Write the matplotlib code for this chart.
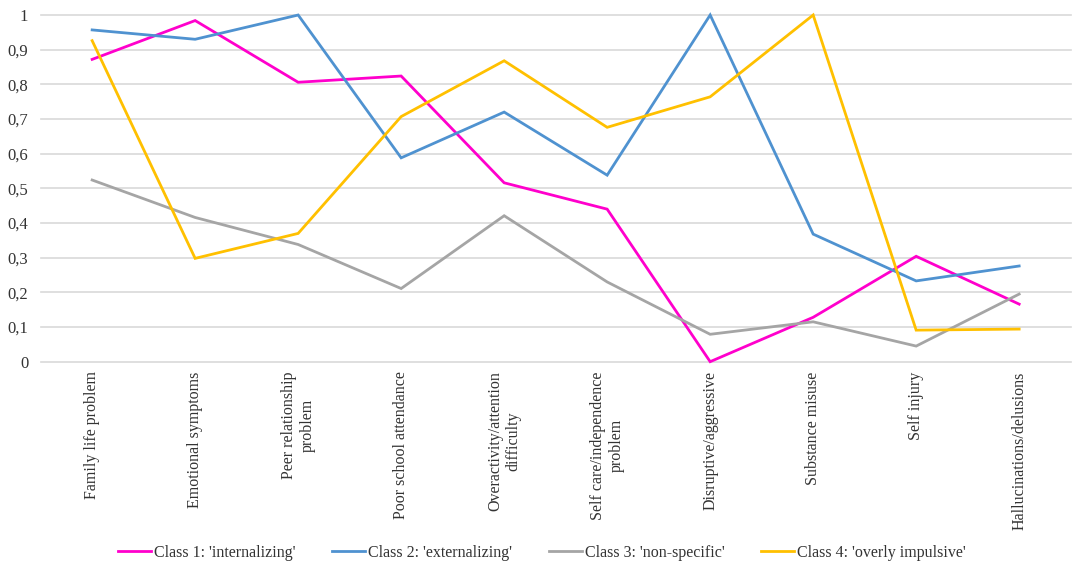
import matplotlib
matplotlib.use('Agg')
import matplotlib.pyplot as plt
from matplotlib.ticker import FuncFormatter

categories = [
    "Family life problem",
    "Emotional symptoms",
    "Peer relationship\nproblem",
    "Poor school attendance",
    "Overactivity/attention\ndifficulty",
    "Self care/independence\nproblem",
    "Disruptive/aggressive",
    "Substance misuse",
    "Self injury",
    "Hallucinations/delusions",
]

class1 = [0.872, 0.984, 0.806, 0.824, 0.516, 0.440, 0.0, 0.128, 0.304, 0.166]
class2 = [0.957, 0.930, 1.0, 0.588, 0.720, 0.538, 1.0, 0.368, 0.233, 0.276]
class3 = [0.524, 0.416, 0.338, 0.211, 0.421, 0.230, 0.079, 0.115, 0.045, 0.195]
class4 = [0.926, 0.298, 0.370, 0.707, 0.868, 0.676, 0.764, 1.0, 0.091, 0.094]

series_names = [
    "Class 1: 'internalizing'",
    "Class 2: 'externalizing'",
    "Class 3: 'non-specific'",
    "Class 4: 'overly impulsive'",
]
colors = ['#FF00CC', '#4F92D0', '#A5A5A5', '#FFC000']

plt.rcParams['font.family'] = ['Liberation Serif', 'DejaVu Serif']
plt.rcParams['font.size'] = 11.5

fig = plt.figure(figsize=(10.84, 5.73), dpi=100)
ax = fig.add_axes([0.0375, 0.3688, 0.9502, 0.605])

x = list(range(len(categories)))
for vals, name, c in zip([class1, class2, class3, class4], series_names, colors):
    ax.plot(x, vals, color=c, lw=2, label=name, solid_joinstyle='miter',
            clip_on=False, zorder=3)

ax.set_xlim(-0.5, len(categories) - 0.5)
ax.set_ylim(0, 1)
ax.set_yticks([i / 10 for i in range(11)])
ax.yaxis.set_major_formatter(FuncFormatter(
    lambda v, p: ('%g' % round(v, 1)).replace('.', ',')))
ax.set_xticks(x)
ax.set_xticklabels(categories, rotation=90, ha='center', va='top',
                   multialignment='center')
ax.tick_params(axis='both', length=0, colors='#333333')
ax.tick_params(axis='x', labelsize=11.5, pad=7)
ax.tick_params(axis='y', labelsize=12, pad=9)
ax.grid(axis='y', color='#D9D9D9', lw=1.2)
for gl in ax.get_ygridlines():
    gl.set_clip_on(False)
ax.set_axisbelow(True)
for s in ax.spines.values():
    s.set_visible(False)

leg = fig.legend(loc='center', bbox_to_anchor=(0.5, 0.0354), ncol=4,
                 frameon=False, handlelength=2.05, handletextpad=0.2,
                 columnspacing=2.3, fontsize=11.5)
for t in leg.get_texts():
    t.set_color('#333333')

fig.savefig('out.png', dpi=100)
